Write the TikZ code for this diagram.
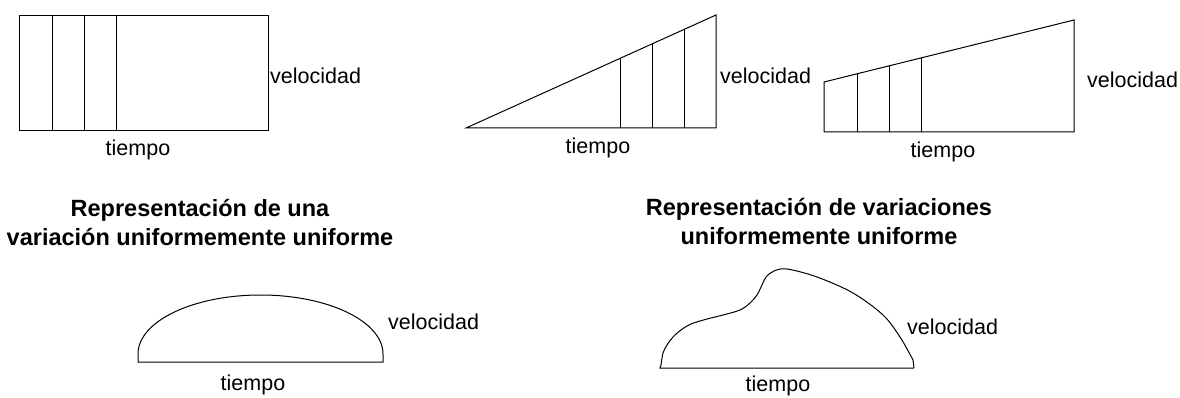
\documentclass[tikz,border=0pt]{standalone}
\usepackage{fontspec}
\setmainfont{Liberation Sans}
\begin{document}
\begin{tikzpicture}[x=1pt,y=-1pt,
  outline/.style={line width=1pt, line join=miter},
  lbl/.style={inner sep=0pt, font=\fontsize{21.5}{24}\selectfont},
  ttl/.style={inner sep=0pt, align=center, font=\fontsize{23.5}{29}\selectfont\bfseries}]
\useasboundingbox[fill=white] (0,0) rectangle (1180,398);
% rectangle
\draw[outline] (19,16) rectangle (268,131);
\draw[outline] (52,16) -- (52,131) (84,16) -- (84,131) (116,16) -- (116,131);
\node[lbl, anchor=west] (v1) at (270,76) {velocidad};
\node[lbl] (t1) at (138,150) {tiempo};
% triangle
\draw[outline] (466,128) -- (716,15) -- (716,128) -- cycle;
\foreach \x in {620,652,684}{\draw[outline] (\x,128) -- (\x,{128-(\x-466)/250*113});}
\node[lbl, anchor=west] (v2) at (720,76) {velocidad};
\node[lbl] (t2) at (598,148) {tiempo};
% trapezoid
\draw[outline] (824,132) -- (824,82) -- (1074,20) -- (1074,132) -- cycle;
\foreach \x in {857,889,921}{\draw[outline] (\x,132) -- (\x,{82-(\x-824)/250*62});}
\node[lbl, anchor=west] (v3) at (1087,80) {velocidad};
\node[lbl] (t3) at (943,152) {tiempo};
% titles
\node[ttl] (h1) at (200,222) {Representación de una\\variación uniformemente uniforme};
\node[ttl] (h2) at (819,221) {Representación de variaciones\\uniformemente uniforme};
% dome
\draw[outline] (138,362) -- (138,354) arc[start angle=180, end angle=360, x radius=122.5, y radius=59] -- (383,362) -- cycle;
\node[lbl, anchor=west] (v4) at (388,322) {velocidad};
\node[lbl] (t4) at (253,385) {tiempo};
% blob
\draw[outline] (914,368) -- (660,368) -- (661,365)
  plot[smooth, tension=0.55] coordinates {(661,365) (663,353) (667,345) (673,337) (681,330) (691,324) (707,319) (723,315) (740,310) (750,303) (757,295) (762,285) (766,277) (774,271) (787,269) (817,277) (853,293) (883,315) (900,337) (913,360)} -- (914,368);
\node[lbl, anchor=west] (v5) at (907,327) {velocidad};
\node[lbl] (t5) at (778,386) {tiempo};
\end{tikzpicture}
\end{document}
